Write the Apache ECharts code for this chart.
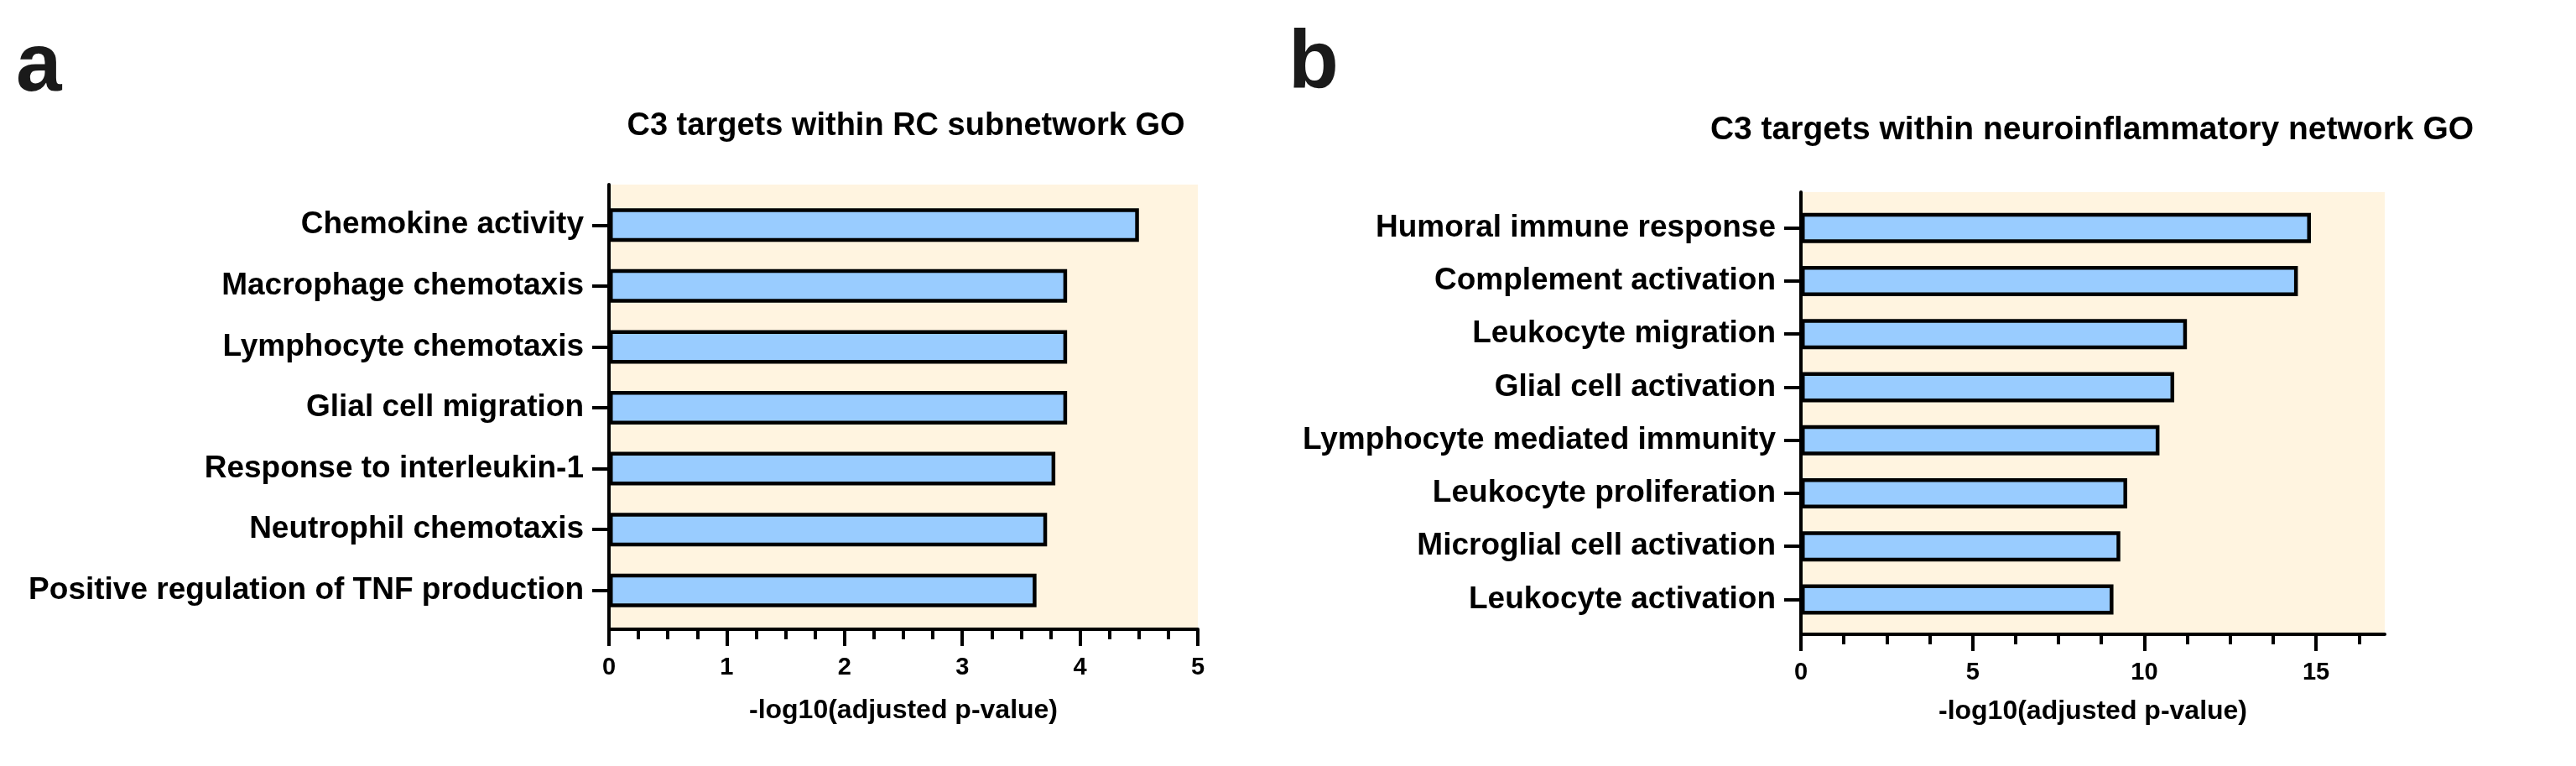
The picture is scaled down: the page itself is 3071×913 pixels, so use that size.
<!DOCTYPE html>
<html>
<head>
<meta charset="utf-8">
<script src="https://cdn.jsdelivr.net/npm/echarts@6/dist/echarts.min.js"></script>
<style>
  html, body { margin: 0; padding: 0; background: #ffffff; }
  #chart { width: 3071px; height: 913px; }
</style>
</head>
<body>
<div id="chart"></div>
<script>
// ---- Data ----
const titleA = 'C3 targets within RC subnetwork GO';
const categoriesA = [
  'Chemokine activity',
  'Macrophage chemotaxis',
  'Lymphocyte chemotaxis',
  'Glial cell migration',
  'Response to interleukin-1',
  'Neutrophil chemotaxis',
  'Positive regulation of TNF production'
];
const valuesA = [4.50, 3.89, 3.89, 3.89, 3.79, 3.72, 3.63];
const ticksA = [0, 1, 2, 3, 4, 5];
const maxA = 5;

const titleB = 'C3 targets within neuroinflammatory network GO';
const categoriesB = [
  'Humoral immune response',
  'Complement activation',
  'Leukocyte migration',
  'Glial cell activation',
  'Lymphocyte mediated immunity',
  'Leukocyte proliferation',
  'Microglial cell activation',
  'Leukocyte activation'
];
const valuesB = [14.85, 14.47, 11.24, 10.87, 10.44, 9.5, 9.3, 9.1];
const ticksB = [0, 5, 10, 15];
const maxB = 17;

const xAxisName = '-log10(adjusted p-value)';

// ---- Style ----
const FONT = "'Liberation Sans', Arial, Helvetica, sans-serif";
const INK = '#000000';
const BAR_FILL = '#99CCFF';
const PLOT_BG = '#FFF4E0';

function minorTicks(ticks, max, parts) {
  const step = (ticks[1] - ticks[0]) / parts;
  const out = [];
  for (let v = ticks[0] + step; v < max - 1e-9; v += step) {
    const isMajor = ticks.some(t => Math.abs(t - v) < 1e-9);
    if (!isMajor) out.push(+v.toFixed(6));
  }
  return out;
}

const panels = [
  { cats: categoriesA, vals: valuesA, ticks: ticksA, max: maxA,
    bg: { left: 726, top: 220, width: 702, height: 530 },
    bars: { left: 726, top: 232, width: 702, height: 508 },
    barWidth: 40, nameGap: 81 },
  { cats: categoriesB, vals: valuesB, ticks: ticksB, max: maxB,
    bg: { left: 2147, top: 229, width: 696, height: 527 },
    bars: { left: 2147, top: 240, width: 696, height: 506 },
    barWidth: 36, nameGap: 76 }
];

const grid = [], xAxis = [], yAxis = [], series = [];
panels.forEach((p, i) => {
  const gBg = grid.length;
  grid.push(Object.assign({ show: true, backgroundColor: PLOT_BG, borderWidth: 0, outerBoundsMode: 'none' }, p.bg));
  const gBar = grid.length;
  grid.push(Object.assign({ show: false, outerBoundsMode: 'none' }, p.bars));

  // major axis with labels and name
  xAxis.push({
    type: 'value', gridIndex: gBg, min: 0, max: p.max, position: 'bottom',
    axisLine: { show: true, onZero: false, lineStyle: { color: INK, width: 4 } },
    axisTick: { show: true, length: 20, lineStyle: { color: INK, width: 4 }, customValues: p.ticks },
    axisLabel: { show: true, customValues: p.ticks, margin: 31, color: INK, fontSize: 29, fontWeight: 'bold', fontFamily: FONT },
    splitLine: { show: false },
    name: xAxisName, nameLocation: 'middle', nameGap: p.nameGap,
    nameTextStyle: { color: INK, fontSize: 32, fontWeight: 'bold', fontFamily: FONT }
  });
  // minor ticks axis
  xAxis.push({
    type: 'value', gridIndex: gBg, min: 0, max: p.max, position: 'bottom',
    axisLine: { show: false },
    axisTick: { show: true, length: 12, lineStyle: { color: INK, width: 4 }, customValues: minorTicks(p.ticks, p.max, 4) },
    axisLabel: { show: false },
    splitLine: { show: false }
  });
  // bar grid x axis (hidden, same scale)
  const xBarIdx = xAxis.length;
  xAxis.push({ type: 'value', gridIndex: gBar, min: 0, max: p.max, show: false });

  // bg y axis: draws vertical axis line over full plot height
  yAxis.push({
    type: 'value', gridIndex: gBg, min: 0, max: 1,
    axisLine: { show: true, lineStyle: { color: INK, width: 4 } },
    axisTick: { show: false }, axisLabel: { show: false }, splitLine: { show: false }
  });
  const yBarIdx = yAxis.length;
  yAxis.push({
    type: 'category', gridIndex: gBar, data: p.cats, inverse: true,
    axisLine: { show: false },
    axisTick: { show: true, alignWithLabel: true, length: 20, lineStyle: { color: INK, width: 4 } },
    axisLabel: { margin: 30, color: INK, fontSize: 37, fontWeight: 'bold', fontFamily: FONT },
    splitLine: { show: false }
  });

  series.push({
    type: 'bar', xAxisIndex: xBarIdx, yAxisIndex: yBarIdx,
    data: p.vals, barWidth: p.barWidth,
    itemStyle: { color: BAR_FILL, borderColor: INK, borderWidth: 4.5 },
    emphasis: { disabled: true }, silent: true, z: 3
  });
});

const chart = echarts.init(document.getElementById('chart'), null, { renderer: 'canvas' });
chart.setOption({
  backgroundColor: '#ffffff',
  animation: false,
  title: [
    { text: 'a', left: 19, top: 32, padding: 0,
      textStyle: { fontSize: 98, fontWeight: 'bold', color: '#1a1a1a', fontFamily: FONT } },
    { text: 'b', left: 1536, top: 28, padding: 0,
      textStyle: { fontSize: 98, fontWeight: 'bold', color: '#1a1a1a', fontFamily: FONT } },
    { text: titleA, left: 1080, top: 132, padding: 0, textAlign: 'center',
      textStyle: { fontSize: 38, fontWeight: 'bold', color: INK, fontFamily: FONT } },
    { text: titleB, left: 2494, top: 136, padding: 0, textAlign: 'center',
      textStyle: { fontSize: 39, fontWeight: 'bold', color: INK, fontFamily: FONT } }
  ],
  grid: grid,
  xAxis: xAxis,
  yAxis: yAxis,
  series: series
});
</script>
</body>
</html>
